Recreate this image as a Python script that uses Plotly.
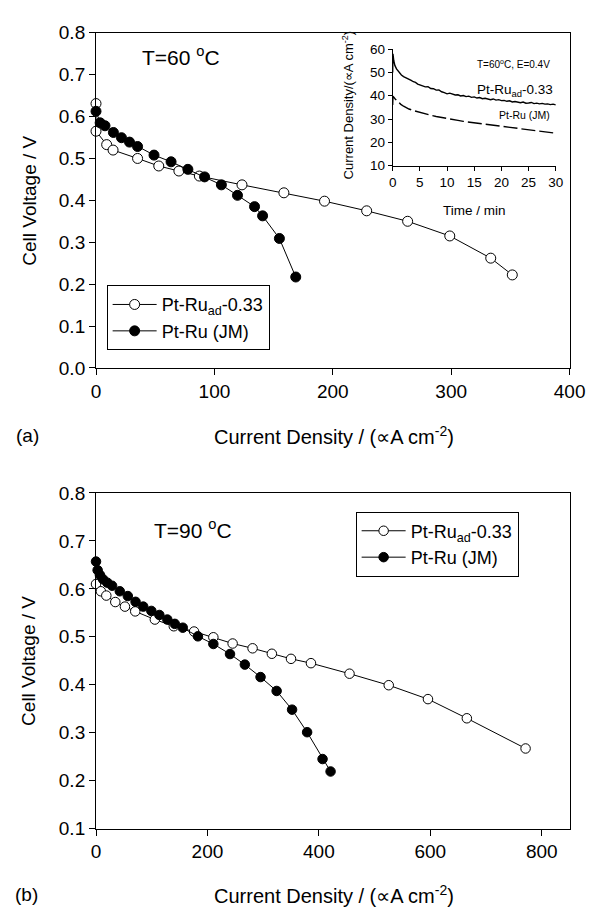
import plotly.graph_objects as go

W, H = 602, 918

# ---------------- data: panel (a), T = 60 C ----------------
a_ad_x = [0, 0, 9, 14.4, 35.1, 53, 70, 87.3, 123.3, 158.7, 193, 228.6, 263.2, 298.8, 333.4, 351.6]
a_ad_y = [0.631, 0.565, 0.533, 0.520, 0.500, 0.482, 0.470, 0.458, 0.437, 0.418, 0.398, 0.375, 0.350, 0.315, 0.262, 0.222]
a_jm_x = [0, 3.5, 7.6, 14.7, 21.5, 28.3, 35.1, 49, 63.4, 77.6, 91.7, 105.9, 119.5, 133.9, 140.7, 154.9, 168.7]
a_jm_y = [0.6125, 0.585, 0.578, 0.562, 0.5495, 0.539, 0.5285, 0.508, 0.492, 0.474, 0.456, 0.437, 0.412, 0.385, 0.363, 0.309, 0.217]

# ---------------- data: panel (b), T = 90 C ----------------
b_ad_x = [0, 8.7, 18.5, 34.6, 51.9, 70.4, 105.6, 139.6, 176, 210.6, 245.2, 281, 315.6, 350, 385.8, 455, 525.4, 595.8, 665.6, 771]
b_ad_y = [0.610, 0.595, 0.586, 0.5725, 0.563, 0.553, 0.536, 0.522, 0.511, 0.499, 0.486, 0.476, 0.4646, 0.454, 0.445, 0.423, 0.399, 0.370, 0.330, 0.267]
b_jm_x = [0, 2.9, 7, 12.7, 20.2, 28.9, 42.7, 57.1, 71, 84.8, 99.3, 113.7, 128, 141.4, 155.7, 182.9, 210.6, 240.5, 267.1, 295.3, 324.2, 351.9, 378.9, 406.6, 421]
b_jm_y = [0.657, 0.639, 0.629, 0.620, 0.613, 0.6065, 0.595, 0.585, 0.573, 0.563, 0.554, 0.5455, 0.536, 0.527, 0.519, 0.501, 0.485, 0.464, 0.442, 0.416, 0.387, 0.348, 0.301, 0.245, 0.219]

# ---------------- data: inset, chronoamperometry ----------------
t_ad = [0, 0.05, 0.2, 0.4, 0.7, 1.0, 1.3, 1.6, 2.0, 2.3, 2.6, 3.0, 3.4, 3.8, 4.2, 4.6, 5.0, 5.5, 6.0, 6.5, 7.0, 7.5, 8.0, 8.5,
        9.0, 9.5, 10.0, 10.5, 11.0, 11.5, 12.0, 12.5, 13.0, 13.5, 14.0, 14.5, 15.0, 15.5, 16.0, 16.5, 17.0, 17.5, 18.0,
        18.5, 19.0, 19.5, 20.0, 20.5, 21.0, 21.5, 22.0, 22.5, 23.0, 23.5, 24.0, 24.5, 25.0, 25.5, 26.0, 26.5, 27.0,
        27.5, 28.0, 28.5, 29.0, 29.5, 30.0]
j_ad = [50.0, 58.0, 55.0, 53.0, 51.5, 50.5, 49.6, 48.9, 48.2, 47.9, 47.3, 47.0, 46.6, 46.0, 45.7, 45.0, 44.6, 44.4, 43.8, 43.9, 43.1, 43.0, 42.4, 42.5,
         41.7, 41.3, 40.8, 41.1, 40.6, 40.3, 40.4, 39.9, 40.1, 39.6, 39.8, 39.3, 39.5, 39.0, 39.2, 38.7, 38.9, 38.5, 38.3,
         38.6, 38.1, 38.3, 37.9, 38.0, 37.6, 37.8, 37.3, 37.5, 37.2, 37.0, 37.3, 36.8, 36.9, 37.1, 36.6, 36.8, 36.5,
         36.7, 36.4, 36.5, 36.2, 36.4, 36.1]
t_jm = [0, 0.05, 0.5, 1.0, 1.5, 2.0, 3.0, 4.0, 5.0, 6.0, 7.0, 8.0, 9.0, 10.0, 11.0, 12.0, 13.0, 14.0, 15.0, 16.0, 17.0,
        18.0, 19.0, 20.0, 21.0, 22.0, 23.0, 24.0, 25.0, 26.0, 27.0, 28.0, 29.0, 30.0]
j_jm = [36.0, 39.8, 38.5, 37.2, 36.3, 35.5, 34.3, 33.5, 32.8, 32.2, 31.6, 31.1, 30.6, 30.2, 29.8, 29.4, 29.0, 28.7, 28.3, 28.0, 27.6,
        27.2, 26.9, 26.6, 26.3, 26.0, 25.7, 25.4, 25.1, 24.8, 24.6, 24.3, 24.1, 23.9]

# ---------------- tick labels / names ----------------
name_ad = "Pt-Ru<sub>ad</sub>-0.33"
name_jm = "Pt-Ru (JM)"
xtitle = "Current Density / (\u221dA cm<sup>-2</sup>)"
ytitle = "Cell Voltage / V"

FONT = "Liberation Sans, Arial, Helvetica, sans-serif"


def fx(px):
    return px / W


def fy(py):
    return 1 - py / H


fig = go.Figure()

open_marker = dict(symbol="circle", size=10, color="white", line=dict(color="black", width=1))
fill_marker = dict(symbol="circle", size=10, color="black", line=dict(color="black", width=1))
open_marker_b = dict(symbol="circle", size=9.5, color="white", line=dict(color="black", width=1))
fill_marker_b = dict(symbol="circle", size=9.5, color="black", line=dict(color="black", width=1))
line = dict(color="black", width=1)

fig.add_trace(go.Scatter(x=a_ad_x, y=a_ad_y, mode="lines+markers", name=name_ad, marker=open_marker,
                         line=line, xaxis="x", yaxis="y", legend="legend", cliponaxis=False))
fig.add_trace(go.Scatter(x=a_jm_x, y=a_jm_y, mode="lines+markers", name=name_jm, marker=fill_marker,
                         line=line, xaxis="x", yaxis="y", legend="legend", cliponaxis=False))
fig.add_trace(go.Scatter(x=b_ad_x, y=b_ad_y, mode="lines+markers", name=name_ad, marker=open_marker_b,
                         line=line, xaxis="x2", yaxis="y2", legend="legend2", cliponaxis=False))
fig.add_trace(go.Scatter(x=b_jm_x, y=b_jm_y, mode="lines+markers", name=name_jm, marker=fill_marker_b,
                         line=line, xaxis="x2", yaxis="y2", legend="legend2", cliponaxis=False))
fig.add_trace(go.Scatter(x=t_ad, y=j_ad, mode="lines", line=dict(color="black", width=1.4),
                         xaxis="x3", yaxis="y3", showlegend=False))
fig.add_trace(go.Scatter(x=t_jm, y=j_jm, mode="lines", line=dict(color="black", width=1.4, dash="14px,4px"),
                         xaxis="x3", yaxis="y3", showlegend=False))

main_ax = dict(showline=True, linecolor="black", linewidth=1, mirror=True, ticks="outside", ticklen=6,
               tickcolor="black", tickwidth=1, showgrid=False, zeroline=False,
               tickfont=dict(size=19, color="black", family=FONT))
inset_ax = dict(showline=True, linecolor="black", linewidth=1, mirror=False, ticks="outside", ticklen=4,
                tickcolor="black", tickwidth=1, showgrid=False, zeroline=False,
                tickfont=dict(size=13.5, color="black", family=FONT))

X0, X1 = fx(94.3), fx(585)

legend_common = dict(bgcolor="white", bordercolor="black", borderwidth=1, itemwidth=44,
                     font=dict(size=18, color="black", family=FONT), xanchor="left", yanchor="top",
                     tracegroupgap=0, itemclick=False)

fig.update_layout(
    width=W, height=H, autosize=False,
    margin=dict(l=0, r=0, t=0, b=0),
    paper_bgcolor="white", plot_bgcolor="white",
    font=dict(family=FONT, color="black"),
    xaxis=dict(main_ax, domain=[X0, X1], range=[0, 400], dtick=100, anchor="y"),
    yaxis=dict(main_ax, domain=[fy(366.3), fy(23.3)], range=[0, 0.8], dtick=0.1, tickformat=".1f", anchor="x"),
    xaxis2=dict(main_ax, domain=[X0, X1], range=[0, 850], dtick=200, anchor="y2"),
    yaxis2=dict(main_ax, domain=[fy(837.7), fy(494.3)], range=[0.1, 0.8], dtick=0.1, tickformat=".1f", anchor="x2"),
    xaxis3=dict(inset_ax, domain=[fx(401.7), fx(570.7)], range=[0, 30], dtick=5, anchor="y3"),
    yaxis3=dict(inset_ax, domain=[fy(159.3), fy(40)], range=[10, 60], dtick=10, anchor="x3"),
    legend=dict(legend_common, x=fx(105.3), y=fy(281.7)),
    legend2=dict(legend_common, x=fx(363.3), y=fy(513.3)),
    showlegend=True,
)

ann = []


def add(text, x, y, size, angle=0, xanchor="center", yanchor="middle"):
    ann.append(dict(text=text, x=fx(x), y=fy(y), xref="paper", yref="paper", showarrow=False,
                    textangle=angle, xanchor=xanchor, yanchor=yanchor,
                    font=dict(size=size, color="black", family=FONT)))


add("T=60 <sup>o</sup>C", 182, 47, 21)
add("T=90 <sup>o</sup>C", 195, 531, 21)
add("(a)", 23, 435, 19)
add("(b)", 22, 905, 19)
add(xtitle, 341, 435, 20)
add(xtitle, 341, 905, 20)
add(ytitle, 25, 195, 19, angle=-90)
add(ytitle, 25, 666, 19, angle=-90)
add("Current Density/(\u221dA cm<sup>-2</sup>)", 355, 97, 13, angle=-90)
add("Time / min", 486.7, 205.7, 13.5)
add("T=60<sup>o</sup>C, E=0.4V", 567, 55, 10, xanchor="right")
add("Pt-Ru<sub>ad</sub>-0.33", 570, 82, 13.5, xanchor="right")
add("Pt-Ru (JM)", 567, 107, 10.5, xanchor="right")

fig.update_layout(annotations=ann)

fig.write_html("out.html", config={"displayModeBar": False},
               post_script="document.body.style.margin='0';")
